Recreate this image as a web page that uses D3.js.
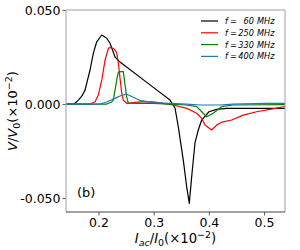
<!DOCTYPE html>
<html><head><meta charset="utf-8">
<script src="https://cdn.jsdelivr.net/npm/d3@7"></script>
<style>body{margin:0;background:#fff}svg{display:block}text{font-family:"DejaVu Sans",sans-serif}</style>
</head><body><svg id="c" width="300" height="250"></svg>
<script>
const seriesNames = ["60", "250", "330", "400"];
const seriesColors = ["#000000", "#ff0000", "#008000", "#1f77b4"];
const xTicks = [0.2, 0.3, 0.4, 0.5];
const yTicks = [0.05, 0.0, -0.05];

const f60 = [[0.141,0],[0.1556,0],[0.1634,0.0021],[0.170,0.0043],[0.1755,0.0074],[0.1846,0.0181],[0.1906,0.0271],[0.1967,0.0331],[0.2058,0.0367],[0.2149,0.0350],[0.2208,0.0323],[0.2299,0.0250],[0.2389,0.0223],[0.2987,0.0090],[0.3295,0.0021],[0.3386,-0.0021],[0.3446,-0.0121],[0.3536,-0.0298],[0.3598,-0.0440],[0.3645,-0.0528],[0.3688,-0.0387],[0.3748,-0.0207],[0.3808,-0.0138],[0.3870,-0.0085],[0.4002,-0.0041],[0.4141,-0.0028],[0.4322,-0.0023],[0.538,-0.0023]];
const f250 = [[0.141,0],[0.1846,0],[0.1937,0.0012],[0.1996,0.0048],[0.2058,0.0128],[0.2118,0.0234],[0.2178,0.0296],[0.2208,0.0301],[0.2268,0.0295],[0.2299,0.0287],[0.2330,0.0271],[0.2359,0.0218],[0.2389,0.0138],[0.2420,0.0059],[0.2449,0.0021],[0.2511,0.0004],[0.2752,0.0012],[0.2987,0.0012],[0.3168,0.0004],[0.3350,-0.0005],[0.3598,-0.0023],[0.3779,-0.0049],[0.3870,-0.0076],[0.3929,-0.0112],[0.4051,-0.0138],[0.4141,-0.0112],[0.4237,-0.0096],[0.4413,-0.0085],[0.4623,-0.0059],[0.4866,-0.0041],[0.5107,-0.0028],[0.538,-0.0013]];
const f330 = [[0.141,0],[0.2149,0],[0.2239,0.0011],[0.2268,0.0021],[0.2299,0.0074],[0.2330,0.0128],[0.2359,0.0170],[0.2420,0.0172],[0.2449,0.0172],[0.2480,0.0101],[0.2511,0.0037],[0.2540,0.0005],[0.2752,0.0004],[0.2987,0.0004],[0.3295,0],[0.3598,-0.0005],[0.3779,-0.0014],[0.3870,-0.0041],[0.3960,-0.0068],[0.4080,-0.0049],[0.4170,-0.0028],[0.4232,-0.0014],[0.4437,-0.0005],[0.538,-0.0003]];
const f400 = [[0.141,0],[0.2027,0],[0.2149,0.0011],[0.2299,0.0030],[0.2389,0.0043],[0.2498,0.0053],[0.2601,0.0040],[0.2752,0.0019],[0.2987,0.0008],[0.3598,0],[0.3839,-0.0005],[0.4201,-0.0005],[0.4437,0],[0.5047,0.0004],[0.538,0.0004]];
const seriesData = [f60, f250, f330, f400];

const svg = d3.select("#c");
const L = 66, R = 285, T = 10, B = 212;
const x = d3.scaleLinear().domain([0.141, 0.538]).range([L, R]);
const y = d3.scaleLinear().domain([-0.0574, 0.050]).range([B, T]);

// curves
const line = d3.line().x(d => x(d[0])).y(d => y(d[1]));
svg.append("clipPath").attr("id","clp").append("rect").attr("x",L).attr("y",T).attr("width",R-L).attr("height",B-T);
const g = svg.append("g").attr("clip-path","url(#clp)");
seriesData.forEach((d,i) => {
  g.append("path").datum(d).attr("d", line).attr("fill","none")
   .attr("stroke", seriesColors[i]).attr("stroke-width",1.2).attr("stroke-linejoin","round");
});

// axes
const xa = svg.append("g").attr("transform",`translate(0,${B})`)
  .call(d3.axisBottom(x).tickValues(xTicks).tickFormat(d3.format(".1f")).tickSize(3.5).tickPadding(3));
const ya = svg.append("g").attr("transform",`translate(${L},0)`)
  .call(d3.axisLeft(y).tickValues(yTicks).tickFormat(d => d3.format(".3f")(d).replace("−","-")).tickSize(3.5).tickPadding(2));
[xa, ya].forEach(a => {
  a.select(".domain").remove();
  a.selectAll("text").attr("font-size","12.5px").attr("fill","#000");
  a.selectAll("line").attr("stroke","#333").attr("stroke-width",0.8);
});
ya.selectAll("text").attr("dy","0.35em");

// spines
svg.append("line").attr("x1",L).attr("x2",L).attr("y1",T).attr("y2",B).attr("stroke","#a0a0a0").attr("stroke-width",1);
svg.append("line").attr("x1",L).attr("x2",R).attr("y1",T).attr("y2",T).attr("stroke","#a0a0a0").attr("stroke-width",1);
svg.append("line").attr("x1",R).attr("x2",R).attr("y1",T).attr("y2",B).attr("stroke","#a0a0a0").attr("stroke-width",1);
svg.append("line").attr("x1",L).attr("x2",R).attr("y1",B).attr("y2",B).attr("stroke","#444").attr("stroke-width",1);

// x label
const xl = svg.append("text").attr("x",(L+R)/2).attr("y",243).attr("text-anchor","middle").attr("font-size","13.2px");
xl.append("tspan").attr("font-style","italic").text("I");
xl.append("tspan").attr("font-style","italic").attr("font-size","9.5px").attr("dy",3).text("ac");
xl.append("tspan").attr("dy",-3).text("/");
xl.append("tspan").attr("font-style","italic").text("I");
xl.append("tspan").attr("font-size","9.5px").attr("dy",3).text("0");
xl.append("tspan").attr("dy",-3).text("(×10");
xl.append("tspan").attr("font-size","9.5px").attr("dy",-5).text("−2");
xl.append("tspan").attr("dy",5).text(")");

// y label
const yl = svg.append("text").attr("transform",`translate(17,${(T+B)/2}) rotate(-90)`).attr("text-anchor","middle").attr("font-size","13px");
yl.append("tspan").attr("font-style","italic").text("V");
yl.append("tspan").text("/");
yl.append("tspan").attr("font-style","italic").text("V");
yl.append("tspan").attr("font-size","9.5px").attr("dy",3).text("0");
yl.append("tspan").attr("dy",-3).text("(×10");
yl.append("tspan").attr("font-size","9.5px").attr("dy",-5).text("−2");
yl.append("tspan").attr("dy",5).text(")");

// panel label
svg.append("text").attr("x",77).attr("y",197).attr("font-size","13px").text("(b)");

// legend
const lg = svg.append("g");
seriesNames.forEach((n,i) => {
  const yy = 21 + i*11.8;
  lg.append("line").attr("x1",201).attr("x2",218).attr("y1",yy).attr("y2",yy).attr("stroke",seriesColors[i]).attr("stroke-width",1.2);
  const t = lg.append("text").attr("y",yy+3).attr("font-size","8.2px").attr("font-style","italic");
  t.append("tspan").attr("x",225).text("f");
  t.append("tspan").attr("x",230).attr("font-style","normal").text("=");
  lg.append("text").attr("x",254).attr("y",yy+3).attr("font-size","8.2px").attr("font-style","italic").attr("text-anchor","end").text(n);
  lg.append("text").attr("x",257).attr("y",yy+3).attr("font-size","8.2px").attr("font-style","italic").text("MHz");
});
</script></body></html>
